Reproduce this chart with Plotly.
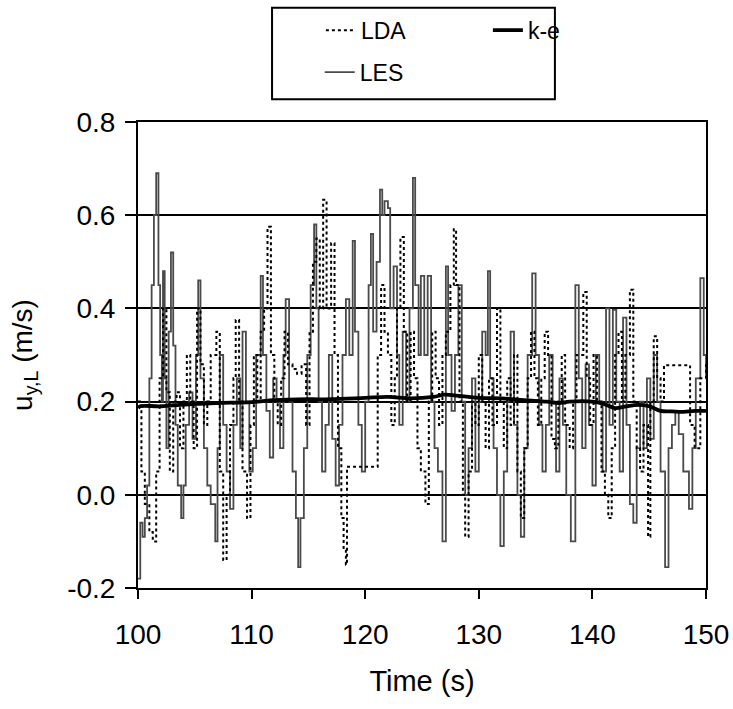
import plotly.graph_objects as go

# ---------------- data ----------------
les_t = [100.0, 100.2, 100.4, 100.6, 100.8, 101.0, 101.2, 101.4, 101.6, 101.8, 101.95, 102.1, 102.2, 102.35,
         102.5, 102.7, 102.9, 103.1, 103.3, 103.5, 103.8, 104.0, 104.2, 104.5, 104.8, 105.1, 105.3, 105.5,
         105.8, 106.1, 106.4, 106.8, 107.0, 107.2, 107.5, 107.8, 108.1, 108.4, 108.7, 109.0, 109.2, 109.5,
         109.8, 110.1, 110.4, 110.8, 111.0, 111.3, 111.6, 111.9, 112.2, 112.5, 112.8, 113.0, 113.3, 113.6,
         113.9, 114.1, 114.3, 114.6, 114.9, 115.2, 115.5, 115.7, 115.9, 116.2, 116.5, 116.8, 117.1, 117.4,
         117.7, 118.0, 118.3, 118.6, 118.9, 119.1, 119.4, 119.7, 120.0, 120.3, 120.5, 120.7, 121.0, 121.3,
         121.5, 121.7, 122.0, 122.2, 122.5, 122.8, 123.0, 123.3, 123.6, 123.9, 124.2, 124.4, 124.7, 124.9,
         125.2, 125.5, 125.8, 126.1, 126.4, 126.8, 127.1, 127.3, 127.6, 127.9, 128.2, 128.5, 128.8, 129.1,
         129.4, 129.7, 130.0, 130.3, 130.6, 130.8, 131.0, 131.3, 131.6, 131.9, 132.2, 132.5, 132.8, 133.1,
         133.4, 133.7, 134.0, 134.3, 134.7, 135.0, 135.3, 135.6, 135.9, 136.2, 136.5, 136.8, 137.1, 137.4,
         137.7, 138.1, 138.5, 138.8, 139.1, 139.4, 139.7, 140.0, 140.3, 140.6, 140.9, 141.2, 141.5, 141.8,
         142.1, 142.4, 142.7, 143.0, 143.3, 143.6, 143.9, 144.2, 144.5, 144.8, 145.1, 145.4, 145.7, 146.0,
         146.4, 146.7, 147.0, 147.3, 147.6, 148.0, 148.5, 148.8, 149.1, 149.5, 149.8, 150.0]
les_v = [-0.18, -0.06, -0.09, -0.05, 0.02, 0.25, 0.45, 0.60, 0.69, 0.45, 0.30, 0.20, 0.48, 0.25,
         0.10, 0.35, 0.52, 0.32, 0.15, 0.02, -0.05, 0.02, 0.15, 0.22, 0.12, 0.30, 0.46, 0.25,
         0.10, 0.02, -0.02, -0.10, 0.10, 0.30, 0.15, 0.05, -0.03, 0.15, 0.25, 0.10, 0.35, 0.20,
         0.05, 0.10, 0.30, 0.47, 0.30, 0.18, 0.08, 0.25, 0.20, 0.10, 0.30, 0.42, 0.20, 0.05,
         -0.05, -0.155, -0.05, 0.10, 0.30, 0.45, 0.58, 0.40, 0.20, 0.05, 0.15, 0.30, 0.12, 0.02,
         0.15, 0.30, 0.42, 0.30, 0.545, 0.35, 0.15, 0.05, 0.20, 0.45, 0.56, 0.35, 0.50, 0.655,
         0.60, 0.63, 0.615, 0.40, 0.49, 0.30, 0.15, 0.35, 0.20, 0.40, 0.68, 0.45, 0.30, 0.47,
         0.30, 0.47, 0.20, 0.10, 0.05, -0.10, 0.49, 0.30, 0.18, 0.30, 0.45, 0.20, 0.00, 0.10,
         0.25, 0.05, 0.20, 0.35, 0.30, 0.48, 0.25, 0.10, 0.00, -0.11, 0.05, 0.20, 0.35, 0.15,
         0.00, -0.09, 0.10, 0.30, 0.475, 0.30, 0.15, 0.05, 0.15, 0.30, 0.20, 0.05, 0.25, 0.15,
         0.00, -0.10, 0.45, 0.25, 0.10, 0.28, 0.15, 0.02, 0.30, 0.20, 0.05, 0.40, 0.15, 0.397,
         0.20, 0.05, 0.38, 0.15, -0.02, -0.06, 0.10, 0.20, 0.10, 0.25, 0.12, 0.30, 0.20, 0.05,
         -0.155, 0.10, 0.15, 0.18, 0.13, 0.05, -0.03, 0.10, 0.25, 0.465, 0.30, 0.25]

lda_t = [100.0, 100.3, 100.6, 101.0, 101.3, 101.6, 101.9, 102.2, 102.5, 102.8, 103.1, 103.4, 103.7,
         104.0, 104.3, 104.6, 104.9, 105.2, 105.5, 105.8, 106.1, 106.4, 106.9, 107.2, 107.5, 107.8,
         108.1, 108.4, 108.6, 108.9, 109.2, 109.6, 109.9, 110.2, 110.5, 110.8, 111.1, 111.4, 111.7,
         112.0, 112.3, 112.6, 112.9, 113.2, 113.6, 114.0, 114.4, 114.8, 115.1, 115.4, 115.7, 116.0,
         116.3, 116.6, 117.0, 117.3, 117.6, 117.9, 118.1, 118.3, 118.4, 120.9, 121.1, 121.4, 121.7,
         122.0, 122.3, 122.6, 122.8, 123.1, 123.4, 123.7, 124.0, 124.3, 124.6, 124.9, 125.3, 125.6,
         125.9, 126.2, 126.5, 126.8, 127.1, 127.5, 127.8, 128.0, 128.3, 128.6, 128.8, 129.1, 129.4,
         129.7, 130.0, 130.3, 130.6, 130.9, 131.2, 131.6, 131.9, 132.2, 132.5, 132.8, 133.1, 133.4,
         133.7, 134.0, 134.3, 134.6, 134.9, 135.2, 135.5, 135.8, 136.1, 136.4, 136.7, 137.0, 137.3,
         137.6, 138.0, 138.3, 138.6, 138.9, 139.2, 139.5, 139.8, 140.1, 140.4, 140.8, 141.1, 141.4,
         141.7, 142.0, 142.3, 142.6, 142.9, 143.3, 143.6, 143.9, 144.2, 144.5, 144.9, 145.1, 145.4,
         145.7, 146.0, 146.3, 148.4, 148.6, 149.0, 149.5, 150.0]
lda_v = [0.20, 0.05, -0.02, -0.08, -0.10, 0.05, 0.25, 0.40, 0.22, 0.05, 0.20, 0.22, 0.10,
         0.20, 0.30, 0.20, 0.10, 0.40, 0.28, 0.15, 0.20, 0.30, 0.35, 0.05, -0.14, 0.00,
         0.15, 0.25, 0.375, 0.20, 0.05, -0.05, 0.15, 0.30, 0.20, 0.35, 0.40, 0.575, 0.30,
         0.20, 0.15, 0.25, 0.35, 0.28, 0.27, 0.26, 0.28, 0.15, 0.35, 0.50, 0.55, 0.40,
         0.633, 0.40, 0.54, 0.30, 0.10, -0.05, -0.12, -0.15, 0.06, 0.06, 0.30, 0.45, 0.35,
         0.30, 0.15, 0.25, 0.40, 0.553, 0.35, 0.20, 0.35, 0.25, 0.10, 0.05, -0.02, 0.20,
         0.35, 0.25, 0.15, 0.30, 0.35, 0.45, 0.57, 0.45, 0.20, 0.00, -0.09, 0.05, 0.20,
         0.15, 0.30, 0.20, 0.10, 0.25, 0.15, 0.40, 0.20, 0.10, 0.25, 0.15, 0.30, 0.05,
         -0.05, 0.10, 0.25, 0.35, 0.25, 0.15, 0.25, 0.35, 0.30, 0.12, 0.10, 0.20, 0.30,
         0.15, 0.10, 0.20, 0.30, 0.30, 0.435, 0.25, 0.15, 0.30, 0.20, 0.05, 0.00, -0.05,
         0.10, 0.30, 0.35, 0.20, 0.30, 0.44, 0.20, 0.10, 0.05, 0.15, -0.09, 0.20, 0.34,
         0.25, 0.20, 0.278, 0.278, 0.15, 0.10, 0.25, 0.28]

ke_t = [100.0, 100.2, 102.0, 105.0, 107.0, 110.0, 112.0, 115.0, 117.0, 120.0, 122.0, 124.0, 126.0,
        127.0, 128.0, 130.0, 132.0, 134.0, 136.0, 137.0, 138.0, 140.0, 141.0, 142.0, 143.0, 144.0,
        145.0, 146.0, 147.0, 148.0, 149.0, 150.0]
ke_v = [0.186, 0.19, 0.19, 0.195, 0.197, 0.199, 0.203, 0.205, 0.205, 0.208, 0.21, 0.207, 0.21,
        0.215, 0.213, 0.208, 0.207, 0.203, 0.2, 0.197, 0.2, 0.2, 0.195, 0.186, 0.19, 0.193,
        0.19, 0.18, 0.179, 0.178, 0.18, 0.18]

x_ticks = [100, 110, 120, 130, 140, 150]
y_ticks = [-0.2, 0.0, 0.2, 0.4, 0.6, 0.8]
y_tick_labels = ["-0.2", "0.0", "0.2", "0.4", "0.6", "0.8"]

FONT = "Liberation Sans, Arial, Helvetica, sans-serif"

fig = go.Figure()
fig.add_trace(go.Scatter(x=les_t, y=les_v, mode="lines", name="LES", legend="legend4",
                         line=dict(color="#4a4a4a", width=1.8, shape="hv")))
fig.add_trace(go.Scatter(x=lda_t, y=lda_v, mode="lines", name="LDA", legend="legend2",
                         line=dict(color="black", width=2, dash="dot", shape="hv")))
fig.add_trace(go.Scatter(x=ke_t, y=ke_v, mode="lines", name="k-e", legend="legend3",
                         line=dict(color="black", width=3.8, shape="spline")))

leg_common = dict(font=dict(family=FONT, size=23, color="black"), bgcolor="rgba(0,0,0,0)",
                  borderwidth=0, xanchor="left", yanchor="middle")

fig.update_layout(
    width=733, height=709,
    margin=dict(l=138, r=27, t=122, b=121, autoexpand=False),
    paper_bgcolor="white", plot_bgcolor="white",
    font=dict(family=FONT, size=28, color="black"),
    showlegend=True,
    legend2=dict(x=0.322, y=1.197, **leg_common),
    legend3=dict(x=0.616, y=1.197, **leg_common),
    legend4=dict(x=0.320, y=1.107, **leg_common),
    shapes=[dict(type="rect", xref="paper", yref="paper", x0=0.236, x1=0.734, y0=1.049, y1=1.245,
                 line=dict(color="black", width=2), fillcolor="rgba(0,0,0,0)", layer="above")],
)
fig.update_xaxes(range=[100, 150], tickvals=x_ticks, ticks="outside", ticklen=9, tickwidth=1.5,
                 tickcolor="black", showgrid=False, zeroline=False, showline=True, linecolor="black",
                 linewidth=2, mirror=True, ticklabelstandoff=11,
                 tickfont=dict(size=28),
                 title=dict(text="Time (s)", font=dict(size=29), standoff=22))
fig.update_yaxes(range=[-0.2, 0.8], tickvals=y_ticks, ticktext=y_tick_labels, ticks="outside",
                 ticklen=11, tickwidth=1.5, tickcolor="black", showgrid=True, gridcolor="black",
                 gridwidth=1.5, zeroline=False, showline=True, linecolor="black", linewidth=2,
                 mirror=True, ticklabelstandoff=4, tickfont=dict(size=28),
                 title=dict(text="u<sub>y,L</sub> (m/s)", font=dict(size=28), standoff=26))

# remove the browser's default 8px page margin so the 733x709 figure fills the window exactly
fig.write_html("out.html", config={"displayModeBar": False},
               post_script="document.body.style.margin='0';document.body.style.overflow='hidden';")
